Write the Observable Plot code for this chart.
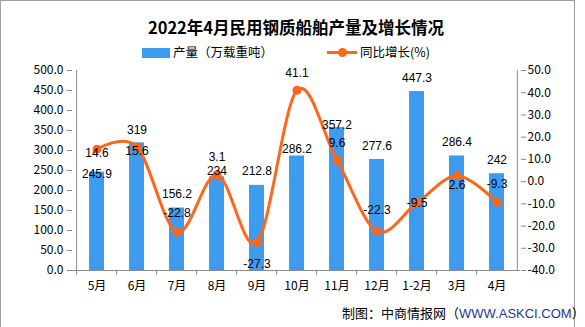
<!DOCTYPE html>
<html>
<head>
<meta charset="utf-8">
<script src="https://cdn.jsdelivr.net/npm/d3@7"></script>
<script src="https://cdn.jsdelivr.net/npm/@observablehq/plot@0.6"></script>
<style>
  body { margin: 0; background: #fff; }
  #wrap { position: relative; width: 585px; height: 327px; overflow: hidden; font-family: "Noto Sans CJK SC", sans-serif; color: #000; }
  #border { position: absolute; left: 0; top: 0; width: 575px; height: 340px; border: 1px solid #a0a0a0; box-sizing: border-box; }
  #title { position: absolute; left: 296px; top: 17px; transform: translateX(-50%); white-space: nowrap; font-size: 16.5px; font-weight: bold; line-height: 20px; }
  .leg { position: absolute; white-space: nowrap; font-size: 12.5px; line-height: 16px; }
  #caption { position: absolute; left: 342px; top: 304px; white-space: nowrap; font-size: 13px; line-height: 17px; }
  #caption .url { font-family: "Liberation Sans", Arial, sans-serif; color: #1b3a8c; }
  #chart { position: absolute; left: 0; top: 0; }
</style>
</head>
<body>
<div id="wrap">
  <div id="border"></div>
  <div id="chart"></div>
  <div id="title"></div>
  <div id="legend"></div>
  <div id="caption"></div>
</div>
<script>
// ---- data ----
const months = ["5月", "6月", "7月", "8月", "9月", "10月", "11月", "12月", "1-2月", "3月", "4月"];
const output = [245.9, 319, 156.2, 234, 212.8, 286.2, 357.2, 277.6, 447.3, 286.4, 242];
const growth = [14.6, 15.6, -22.8, 3.1, -27.3, 41.1, 9.6, -22.3, -9.5, 2.6, -9.3];
const leftTicks = [0, 50, 100, 150, 200, 250, 300, 350, 400, 450, 500];
const rightTicks = [-40, -30, -20, -10, 0, 10, 20, 30, 40, 50];
// label placement nudges (pixels, relative to the value)
const barLabelShift = [2, -13, -14, -6, -14, -7, -2, -13, -13, -14, -14];
const lineLabelShift = [4, 4, -19, -18, 22, -17, -17, -21, 0, 9, -18];

const titleText = "2022年4月民用钢质船舶产量及增长情况";
const seriesBar = "产量（万载重吨）";
const seriesLine = "同比增长(%)";

const BLUE = "#3e9cf0";
const ORANGE = "#ff661a";
const AXIS = "#8c8c8c";
const LABEL_FONT = '"Liberation Sans", Arial, sans-serif';

// ---- build ----
const L0 = leftTicks[0], L1 = leftTicks[leftTicks.length - 1];
const R0 = rightTicks[0], R1 = rightTicks[rightTicks.length - 1];
const toLeft = g => L0 + (g - R0) / (R1 - R0) * (L1 - L0);
const fromLeft = v => R0 + (v - L0) / (L1 - L0) * (R1 - R0);

const data = months.map((m, i) => ({m, v: output[i], g: growth[i], gy: toLeft(growth[i])}));

const W = 585, H = 327, mL = 72, mR = 65, mT = 70, mB = 57;
const step = (W - mL - mR) / months.length;

const marks = [
  Plot.barY(data, {x: "m", y: "v", fill: BLUE}),
  Plot.ruleY([L0], {stroke: AXIS}),
  Plot.ruleX([months[0]], {y1: L0, y2: L1, dx: -step / 2, stroke: AXIS}),
  Plot.ruleX([months[months.length - 1]], {y1: L0, y2: L1, dx: step / 2, stroke: AXIS}),
  Plot.ruleX(months, {x: d => d, y1: L0, y2: L0, insetBottom: -5, dx: -step / 2, stroke: AXIS}),
  Plot.axisX({tickSize: 0, tickPadding: 11, fill: "#000", fontSize: 12}),
  Plot.axisY({anchor: "left", ticks: leftTicks, tickFormat: d => d.toFixed(1), tickSize: 5, tickPadding: 4, stroke: AXIS, fill: "#000", fontSize: 12}),
  Plot.axisY(rightTicks.map(toLeft), {anchor: "right", tickFormat: d => Math.round(fromLeft(d)).toFixed(1), tickSize: 5, tickPadding: 2, stroke: AXIS, fill: "#000", fontSize: 12}),
  Plot.line(data, {x: "m", y: "gy", stroke: ORANGE, strokeWidth: 3, curve: "cardinal"}),
  Plot.dot(data, {x: "m", y: "gy", r: 4.5, fill: ORANGE})
];
data.forEach((d, i) => {
  marks.push(Plot.text([d], {x: "m", y: "v", text: d => String(d.v), dy: barLabelShift[i], fill: "#000", fontSize: 12, fontFamily: LABEL_FONT}));
  marks.push(Plot.text([d], {x: "m", y: "gy", text: d => String(d.g), dy: lineLabelShift[i], fill: "#000", fontSize: 12, fontFamily: LABEL_FONT}));
});

const chart = Plot.plot({
  width: W, height: H,
  marginLeft: mL, marginRight: mR, marginTop: mT, marginBottom: mB,
  style: {fontFamily: '"Noto Sans CJK SC", sans-serif', fontSize: "12px", background: "transparent", color: "#000"},
  x: {domain: months, paddingInner: 0.63, paddingOuter: 0.315, label: null},
  y: {domain: [L0, L1], label: null},
  marks
});
document.getElementById("chart").appendChild(chart);

document.getElementById("title").textContent = titleText;
document.getElementById("legend").innerHTML =
  `<div style="position:absolute;left:142px;top:48px;width:28px;height:10px;background:${BLUE}"></div>` +
  `<div class="leg" style="left:173px;top:44px">${seriesBar}</div>` +
  `<div style="position:absolute;left:327px;top:50.5px;width:30px;height:3px;background:${ORANGE}"></div>` +
  `<div style="position:absolute;left:337.5px;top:47.5px;width:9px;height:9px;border-radius:50%;background:${ORANGE}"></div>` +
  `<div class="leg" style="left:360px;top:44px">${seriesLine}</div>`;
document.getElementById("caption").innerHTML = `制图：中商情报网（<span class="url">WWW.ASKCI.COM</span>）`;
</script>
</body>
</html>
